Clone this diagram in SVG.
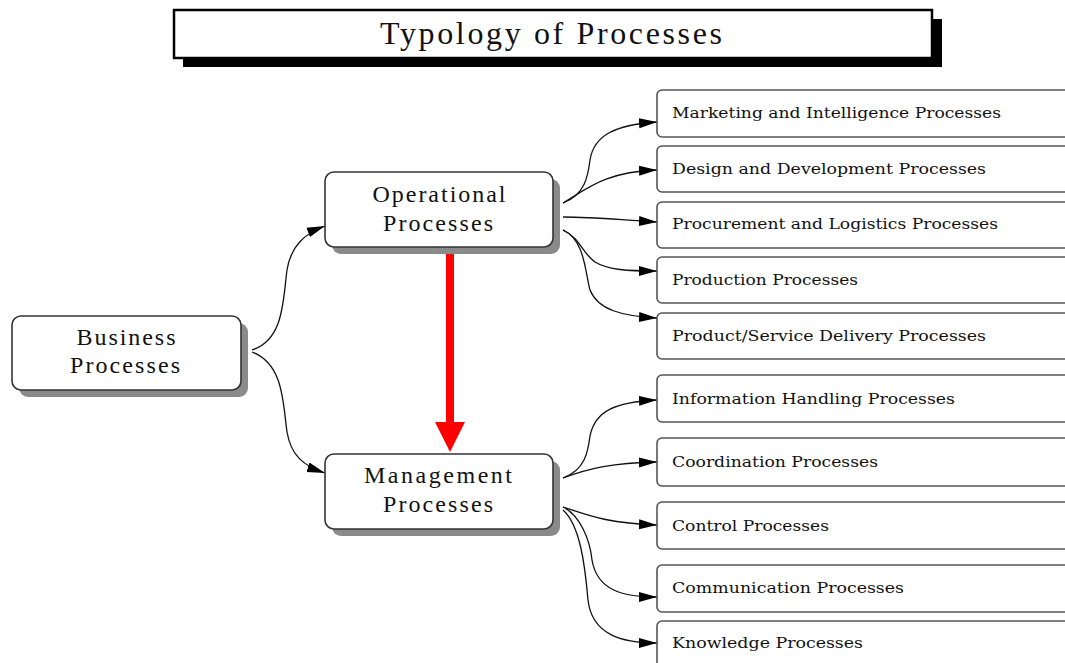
<svg xmlns="http://www.w3.org/2000/svg" width="1065" height="663" viewBox="0 0 1065 663">
  <style>
    .title { font-family: "Liberation Serif", "DejaVu Serif", serif; font-size: 32px; fill: #111; }
    .main { font-family: "Liberation Serif", "DejaVu Serif", serif; font-size: 24px; fill: #111; text-anchor: middle; }
    .leaf { font-family: "DejaVu Serif", "Liberation Serif", serif; font-size: 15px; fill: #111; }
    .box { fill: #fff; stroke: #333; stroke-width: 1.6; }
    .shadow { fill: #8a8a8a; }
    .leafbox { fill: #fff; stroke: #555; stroke-width: 1.6; }
    .link { fill: none; stroke: #111; stroke-width: 1.3; marker-end: url(#arrow); }
  </style>
  <defs>
    <marker id="arrow" markerUnits="userSpaceOnUse" markerWidth="20" markerHeight="12" viewBox="0 0 20 12" refX="18" refY="6" orient="auto">
      <path d="M0,1 L18,6 L0,11 Z" fill="#000"/>
    </marker>
  </defs>

  <!-- title banner -->
  <g id="title">
    <rect x="183" y="19" width="759" height="48" fill="#000"/>
    <rect x="174" y="10" width="758" height="48" fill="#fff" stroke="#000" stroke-width="2.5"/>
    <text class="title" x="380" y="44" textLength="342" lengthAdjust="spacing">Typology of Processes</text>
  </g>

  <!-- connectors -->
  <g id="connectors">
    <path class="link" d="M252,350 C284,340 283,300 287,270 C291,246 304,234 325,226"/>
    <path class="link" d="M252,352 C284,364 283,404 287,432 C291,456 304,466 325,473"/>

    <path class="link" d="M563,203 C585,195 588,176 590,160 C594,135 615,125 657,122"/>
    <path class="link" d="M563,203 C588,188 605,172 657,170"/>
    <path class="link" d="M563,217 C595,217 620,220 657,222"/>
    <path class="link" d="M563,230 C580,238 583,254 595,262 C608,270 628,271 657,271"/>
    <path class="link" d="M563,230 C585,240 585,272 590,290 C598,310 622,316 657,318"/>

    <path class="link" d="M563,478 C585,470 588,452 590,436 C595,411 615,402 657,400"/>
    <path class="link" d="M563,478 C590,468 612,463 657,462"/>
    <path class="link" d="M563,507 C588,515 605,523 657,525"/>
    <path class="link" d="M563,507 C580,515 590,540 592,560 C597,590 622,597 657,597"/>
    <path class="link" d="M563,510 C580,525 585,565 588,600 C592,635 622,643 657,643"/>

    <!-- highlighted flow between the two middle nodes -->
    <g id="red-arrow">
      <line x1="450" y1="252" x2="450" y2="424" stroke="#ff0000" stroke-width="8" stroke-linecap="round"/>
      <polygon points="435,422 465,422 450,452" fill="#ff0000"/>
    </g>
  </g>

  <!-- root node -->
  <g id="business">
    <rect class="shadow" x="19" y="323" width="229" height="74" rx="9"/>
    <rect class="box" x="12" y="316" width="229" height="74" rx="9"/>
    <text class="main" x="126" y="345" textLength="99" lengthAdjust="spacing">Business</text>
    <text class="main" x="125" y="373" textLength="110" lengthAdjust="spacing">Processes</text>
  </g>

  <g id="operational">
    <rect class="shadow" x="332" y="179" width="228" height="75" rx="9"/>
    <rect class="box" x="325" y="172" width="228" height="75" rx="9"/>
    <text class="main" x="439" y="202" textLength="133" lengthAdjust="spacing">Operational</text>
    <text class="main" x="438" y="231" textLength="110" lengthAdjust="spacing">Processes</text>
  </g>

  <g id="management">
    <rect class="shadow" x="332" y="461" width="228" height="75" rx="9"/>
    <rect class="box" x="325" y="454" width="228" height="75" rx="9"/>
    <text class="main" x="438" y="483" textLength="148" lengthAdjust="spacing">Management</text>
    <text class="main" x="438" y="512" textLength="110" lengthAdjust="spacing">Processes</text>
  </g>

  <!-- operational sub-processes -->
  <g id="marketing">
    <rect class="leafbox" x="657" y="90" width="430" height="47" rx="5"/>
    <text class="leaf" x="672" y="118" textLength="329" lengthAdjust="spacingAndGlyphs">Marketing and Intelligence Processes</text>
  </g>
  <g id="design">
    <rect class="leafbox" x="657" y="146" width="430" height="46" rx="5"/>
    <text class="leaf" x="672" y="174" textLength="314" lengthAdjust="spacingAndGlyphs">Design and Development Processes</text>
  </g>
  <g id="procurement">
    <rect class="leafbox" x="657" y="202" width="430" height="46" rx="5"/>
    <text class="leaf" x="672" y="229" textLength="326" lengthAdjust="spacingAndGlyphs">Procurement and Logistics Processes</text>
  </g>
  <g id="production">
    <rect class="leafbox" x="657" y="257" width="430" height="46" rx="5"/>
    <text class="leaf" x="672" y="285" textLength="186" lengthAdjust="spacingAndGlyphs">Production Processes</text>
  </g>
  <g id="delivery">
    <rect class="leafbox" x="657" y="313" width="430" height="46" rx="5"/>
    <text class="leaf" x="672" y="341" textLength="314" lengthAdjust="spacingAndGlyphs">Product/Service Delivery Processes</text>
  </g>

  <!-- management sub-processes -->
  <g id="information">
    <rect class="leafbox" x="657" y="375" width="430" height="47" rx="5"/>
    <text class="leaf" x="672" y="404" textLength="283" lengthAdjust="spacingAndGlyphs">Information Handling Processes</text>
  </g>
  <g id="coordination">
    <rect class="leafbox" x="657" y="438" width="430" height="48" rx="5"/>
    <text class="leaf" x="672" y="467" textLength="206" lengthAdjust="spacingAndGlyphs">Coordination Processes</text>
  </g>
  <g id="control">
    <rect class="leafbox" x="657" y="502" width="430" height="47" rx="5"/>
    <text class="leaf" x="672" y="531" textLength="157" lengthAdjust="spacingAndGlyphs">Control Processes</text>
  </g>
  <g id="communication">
    <rect class="leafbox" x="657" y="565" width="430" height="47" rx="5"/>
    <text class="leaf" x="672" y="593" textLength="232" lengthAdjust="spacingAndGlyphs">Communication Processes</text>
  </g>
  <g id="knowledge">
    <rect class="leafbox" x="657" y="621" width="430" height="60" rx="5"/>
    <text class="leaf" x="672" y="648" textLength="191" lengthAdjust="spacingAndGlyphs">Knowledge Processes</text>
  </g>
</svg>
